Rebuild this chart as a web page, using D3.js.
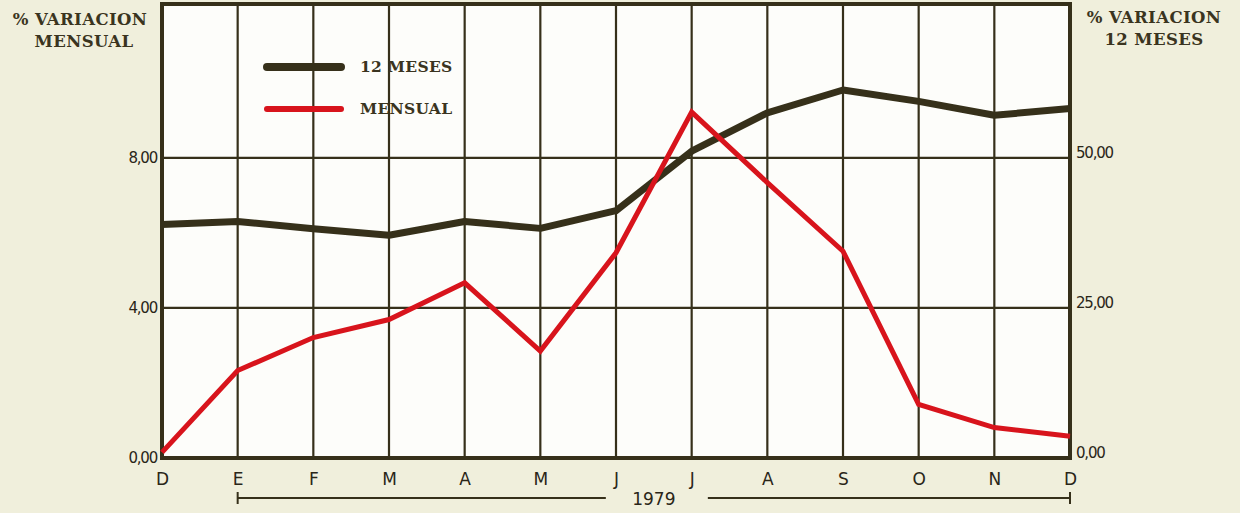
<!DOCTYPE html>
<html>
<head>
<meta charset="utf-8">
<script src="https://cdn.jsdelivr.net/npm/d3@7"></script>
<style>
  body { margin: 0; background: #f0efdc; }
  svg { display: block; }
  .title { font-family: 'DejaVu Serif', serif; font-weight: bold; font-size: 16.5px; fill: #3a3420; letter-spacing: 0.4px; }
  .legend text { font-family: 'DejaVu Serif', serif; font-weight: bold; font-size: 15.5px; fill: #3a3420; letter-spacing: 0.3px; }
  .axis text { font-family: 'DejaVu Sans', sans-serif; font-size: 15px; fill: #2a2618; letter-spacing: -1.2px; }
  .axis path, .axis line { display: none; }
  .axis.months text, .year { font-family: 'DejaVu Sans', sans-serif; font-size: 17px; fill: #2a2618; letter-spacing: 0; }
</style>
</head>
<body>
<svg class="chart"></svg>
<script>
const months = ['D', 'E', 'F', 'M', 'A', 'M', 'J', 'J', 'A', 'S', 'O', 'N', 'D'];
const mensual = [0.15, 2.33, 3.21, 3.69, 4.67, 2.85, 5.47, 9.22, 7.34, 5.51, 1.43, 0.81, 0.58];
const doceMeses = [38.9, 39.4, 38.2, 37.1, 39.4, 38.25, 41.2, 51.1, 57.5, 61.3, 59.4, 57.1, 58.2];
const leftTicks = [0, 4, 8];
const rightTicks = [0, 25, 50];
const yearLabel = '1979';

const ink = '#36301a';
const red = '#d8141c';
const W = 1240;
const H = 513;
const margin = { top: 4, right: 170, bottom: 55, left: 162 };
const width = W - margin.left - margin.right;
const height = H - margin.top - margin.bottom;

const commaFormat = d => d3.format('.2f')(d).replace('.', ',');

const svg = d3.select('.chart')
  .attr('width', W)
  .attr('height', H);

const g = svg.append('g')
  .attr('transform', `translate(${margin.left}, ${margin.top})`);

const x = d3.scalePoint()
  .domain(d3.range(months.length))
  .range([0, width]);

const y = d3.scaleLinear()
  .domain([0, 12.1])
  .range([height, 0]);

// right scale: 50 lines up with 8 on the left
const yRight = d3.scaleLinear()
  .domain([0, 12.1 * 50 / 8])
  .range([height, 0]);

g.append('rect')
  .attr('width', width)
  .attr('height', height)
  .attr('fill', '#fdfdfa');

// grid
g.selectAll('.vgrid')
  .data(d3.range(1, months.length - 1))
  .enter()
  .append('line')
  .attr('class', 'vgrid')
  .attr('x1', d => x(d))
  .attr('x2', d => x(d))
  .attr('y1', 0)
  .attr('y2', height)
  .attr('stroke', ink)
  .attr('stroke-width', 2.2);

g.selectAll('.hgrid')
  .data(leftTicks.filter(d => d > 0))
  .enter()
  .append('line')
  .attr('class', 'hgrid')
  .attr('x1', 0)
  .attr('x2', width)
  .attr('y1', d => y(d))
  .attr('y2', d => y(d))
  .attr('stroke', ink)
  .attr('stroke-width', 2.2);

g.append('rect')
  .attr('width', width)
  .attr('height', height)
  .attr('fill', 'none')
  .attr('stroke', ink)
  .attr('stroke-width', 4);

// lines
const line12 = d3.line()
  .x((d, i) => x(i))
  .y(d => yRight(d));

const lineMes = d3.line()
  .x((d, i) => x(i))
  .y(d => y(d));

g.append('path')
  .datum(doceMeses)
  .attr('d', line12)
  .attr('fill', 'none')
  .attr('stroke', ink)
  .attr('stroke-width', 7)
  .attr('stroke-linejoin', 'round');

g.append('path')
  .datum(mensual)
  .attr('d', lineMes)
  .attr('fill', 'none')
  .attr('stroke', red)
  .attr('stroke-width', 5)
  .attr('stroke-linejoin', 'miter');

// axes
g.append('g')
  .attr('class', 'axis')
  .call(d3.axisLeft(y).tickValues(leftTicks).tickSize(0).tickPadding(5).tickFormat(commaFormat));

g.append('g')
  .attr('class', 'axis')
  .attr('transform', `translate(${width}, 0)`)
  .call(d3.axisRight(yRight).tickValues(rightTicks).tickSize(0).tickPadding(6).tickFormat(commaFormat))
  .selectAll('text')
  .attr('dy', '-0.05em');

g.append('g')
  .attr('class', 'axis months')
  .attr('transform', `translate(0, ${height})`)
  .call(d3.axisBottom(x).tickSize(0).tickPadding(15).tickFormat(i => months[i]));

// year bracket, from E to the last D
const bx0 = x(1);
const bx1 = x(months.length - 1);
const by = height + 40;
const mid = (bx0 + bx1) / 2;
const bracket = g.append('g')
  .attr('stroke', ink)
  .attr('stroke-width', 2);
bracket.append('line').attr('x1', bx0).attr('x2', mid - 48).attr('y1', by).attr('y2', by);
bracket.append('line').attr('x1', mid + 54).attr('x2', bx1).attr('y1', by).attr('y2', by);
bracket.append('line').attr('x1', bx0).attr('x2', bx0).attr('y1', by - 6).attr('y2', by + 6);
bracket.append('line').attr('x1', bx1).attr('x2', bx1).attr('y1', by - 6).attr('y2', by + 6);
g.append('text')
  .attr('class', 'year')
  .attr('x', mid)
  .attr('y', by + 7)
  .attr('text-anchor', 'middle')
  .text(yearLabel);

// titles
svg.append('text')
  .attr('class', 'title')
  .attr('text-anchor', 'middle')
  .attr('x', 80)
  .attr('y', 25)
  .text('% VARIACION');
svg.append('text')
  .attr('class', 'title')
  .attr('text-anchor', 'middle')
  .attr('x', 84)
  .attr('y', 47)
  .text('MENSUAL');
svg.append('text')
  .attr('class', 'title')
  .attr('text-anchor', 'middle')
  .attr('x', 1154)
  .attr('y', 23)
  .text('% VARIACION');
svg.append('text')
  .attr('class', 'title')
  .attr('text-anchor', 'middle')
  .attr('x', 1154)
  .attr('y', 45)
  .text('12 MESES');

// legend
const legendItems = [
  { name: '12 MESES', colour: ink, w: 8 },
  { name: 'MENSUAL', colour: red, w: 6 },
];
const legend = g.append('g')
  .attr('class', 'legend')
  .attr('transform', 'translate(105, 63)')
  .selectAll('g')
  .data(legendItems)
  .enter()
  .append('g')
  .attr('transform', (d, i) => `translate(0, ${i * 42})`);
legend.append('line')
  .attr('x1', 0)
  .attr('x2', 74)
  .attr('stroke', d => d.colour)
  .attr('stroke-width', d => d.w)
  .attr('stroke-linecap', 'round');
legend.append('text')
  .attr('x', 93)
  .attr('dy', '0.35em')
  .text(d => d.name);
</script>
</body>
</html>
